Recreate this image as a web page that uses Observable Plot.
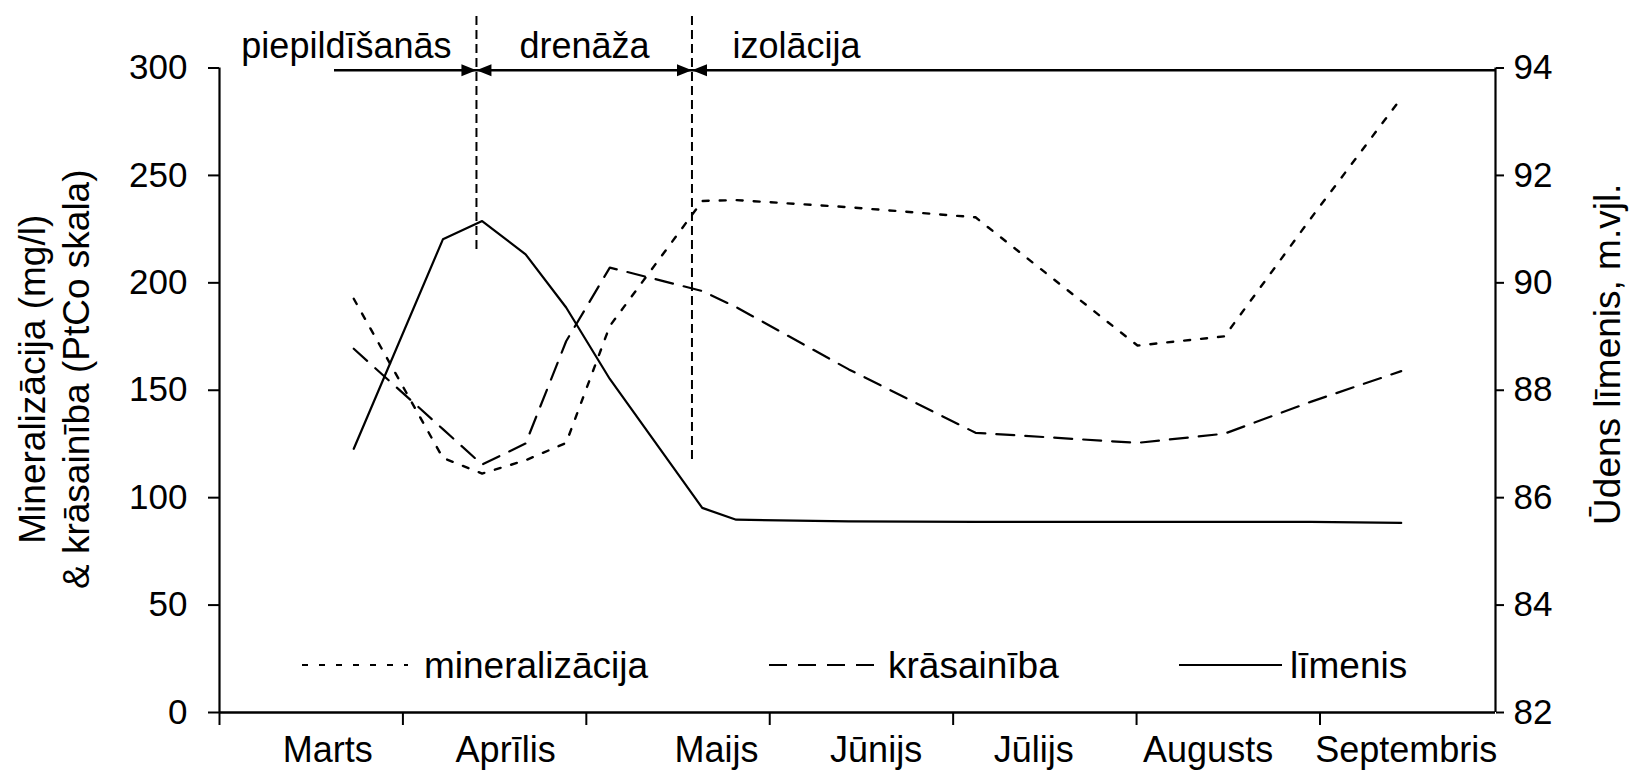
<!DOCTYPE html>
<html><head><meta charset="utf-8">
<script src="https://cdn.jsdelivr.net/npm/d3@7"></script>
<script src="https://cdn.jsdelivr.net/npm/@observablehq/plot@0.6"></script>
<style>
html,body{margin:0;padding:0;background:#fff;}
#wrap{position:relative;width:1632px;height:783px;overflow:hidden;}
#legend{position:absolute;left:0;top:0;pointer-events:none;}
</style></head><body><div id="wrap"></div>
<script>
// x in months since 1 March (tick at each month start)
const months = ["Marts","Aprīlis","Maijs","Jūnijs","Jūlijs","Augusts","Septembris"];
const monthLabelPos = [0.59,1.56,2.71,3.58,4.44,5.39,6.47];
const monthTicks = [0,1,2,3,4,5,6];
const xMax = 6.957;
const t = [0.732,1.218,1.432,1.669,1.890,2.128,2.632,2.817,3.431,4.122,5.005,5.480,5.949,6.443];
const mineralizacija = [192.6,118.5,111.2,117.4,125.5,179.9,238.1,238.5,235.2,230.5,170.8,175.1,229.9,286];
const krasainiba = [169.3,131.9,115.4,125.2,172.8,207.1,196.2,188.7,159.7,130.2,125.5,129.8,144.6,158.9];
const limenis = [86.91,90.81,91.15,90.53,89.54,88.21,85.81,85.59,85.56,85.55,85.55,85.55,85.55,85.53];
const leftTicks = [0,50,100,150,200,250,300];
const rightTicks = [82,84,86,88,90,92,94];
const phases = ["piepildīšanās","drenāža","izolācija"];
const phaseLabelPos = [0.692,1.990,3.146];
const phaseStart = 0.627;
const dividerX = [1.401,2.576];
const dividerTop = [324,324];
const dividerBottom = [215,117];
const legendNames = ["mineralizācija","krāsainība","līmenis"];

const FONT = "'Liberation Sans', Arial, sans-serif";
const yR = v => (v - 82) * 300 / 12;   // right axis (82–94) onto left scale (0–300)
const series = t.map((x,i)=>({x, m: mineralizacija[i], k: krasainiba[i], l: yR(limenis[i])}));
const dividers = dividerX.map((x,i)=>({x, top: dividerTop[i], bottom: dividerBottom[i]}));
const headRight = {draw(ctx){ctx.moveTo(0,0);ctx.lineTo(-15,-6);ctx.lineTo(-15,6);ctx.closePath();}};
const headLeft = {draw(ctx){ctx.moveTo(0,0);ctx.lineTo(15,-6);ctx.lineTo(15,6);ctx.closePath();}};
const DOT = "6,11", DASH = "18,11";

const plot = Plot.plot({
  width: 1632, height: 783,
  marginLeft: 219, marginRight: 137, marginTop: 67.5, marginBottom: 71,
  style: {fontFamily: FONT, fontSize: "36px", color: "black", background: "white", overflow: "visible"},
  x: {domain: [0, xMax], label: null},
  y: {domain: [0, 300], label: null},
  marks: [
    Plot.axisY(leftTicks, {anchor: "left", tickSize: 11, tickPadding: 21, strokeWidth: 2, fontSize: 35, label: null}),
    Plot.axisY(rightTicks.map(yR), {anchor: "right", tickSize: 8, tickPadding: 10, strokeWidth: 2, fontSize: 35, label: null,
      tickFormat: d => String(Math.round(82 + d * 12 / 300))}),
    Plot.axisX(monthTicks, {anchor: "bottom", tickSize: 13, strokeWidth: 2, tickFormat: () => "", label: null}),
    Plot.text(months, {x: (d,i) => monthLabelPos[i], text: d => d, frameAnchor: "bottom", textAnchor: "middle", dy: 49.5, fontSize: 36}),
    Plot.ruleX([0], {strokeWidth: 2.2}),
    Plot.ruleX([xMax], {strokeWidth: 2.2}),
    Plot.ruleY([0], {strokeWidth: 2.5}),
    Plot.line(series, {x: "x", y: "m", strokeWidth: 2.4, strokeDasharray: DOT}),
    Plot.line(series, {x: "x", y: "k", strokeWidth: 2.2, strokeDasharray: DASH}),
    Plot.line(series, {x: "x", y: "l", strokeWidth: 2.2}),
    Plot.ruleX(dividers, {x: "x", y1: "top", y2: "bottom", strokeWidth: 2, strokeDasharray: "9,5"}),
    Plot.ruleY([299], {x1: phaseStart, x2: xMax, strokeWidth: 2.5}),
    Plot.dot(dividerX, {x: d => d, y: 299, symbol: headRight, fill: "black", stroke: "none"}),
    Plot.dot(dividerX, {x: d => d, y: 299, symbol: headLeft, fill: "black", stroke: "none"}),
    Plot.text(phases, {x: (d,i) => phaseLabelPos[i], text: d => d, frameAnchor: "top", textAnchor: "middle", dy: -36, fontSize: 36}),
    Plot.text(["Mineralizācija (mg/l)"], {text: d => d, frameAnchor: "left", textAnchor: "middle", dx: -186, dy: -11, rotate: -90, fontSize: 37}),
    Plot.text(["& krāsainība (PtCo skala)"], {text: d => d, frameAnchor: "left", textAnchor: "middle", dx: -142, dy: -11, rotate: -90, fontSize: 37}),
    Plot.text(["Ūdens līmenis, m.vjl."], {text: d => d, frameAnchor: "right", textAnchor: "middle", dx: 113, dy: -36, rotate: -90, fontSize: 37})
  ]
});
const wrap = document.getElementById("wrap");
wrap.appendChild(plot);

// legend (inside plot area, bottom)
const lg = d3.select(wrap).append("svg").attr("id","legend").attr("width",1632).attr("height",783)
  .style("font-family", FONT).style("font-size","37px");
const items = [
  {name: legendNames[0], x1: 302, x2: 408, tx: 424, dash: DOT},
  {name: legendNames[1], x1: 769, x2: 882, tx: 888, dash: DASH},
  {name: legendNames[2], x1: 1179, x2: 1282, tx: 1290, dash: null}
];
const LY = 665, TY = 678;
for (const it of items) {
  lg.append("line").attr("x1", it.x1).attr("x2", it.x2).attr("y1", LY).attr("y2", LY)
    .attr("stroke","black").attr("stroke-width",2.2).attr("stroke-dasharray", it.dash);
  lg.append("text").attr("x", it.tx).attr("y", TY).text(it.name);
}
</script></body></html>
